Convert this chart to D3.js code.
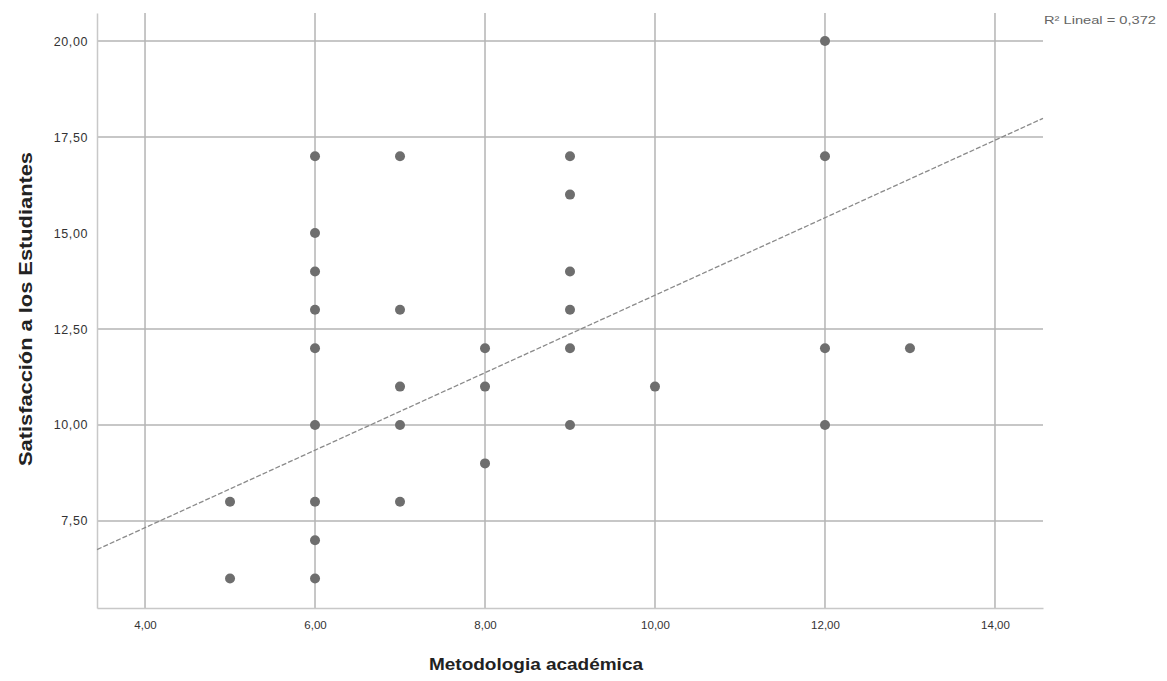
<!DOCTYPE html>
<html><head><meta charset="utf-8">
<script src="https://cdn.jsdelivr.net/npm/d3@7"></script>
<style>body{margin:0;background:#fff;} svg{display:block;}</style>
</head><body>
<svg id="c" width="1167" height="681"></svg>
<script>
const xValues = [5,5, 6,6,6,6,6,6,6,6,6, 7,7,7,7,7, 8,8,8, 9,9,9,9,9,9, 10, 12,12,12,12, 13];
const yValues = [8,6, 17,15,14,13,12,10,8,7,6, 17,13,11,10,8, 12,11,9, 17,16,14,13,12,10, 11, 20,17,12,10, 12];
const xTicks = [4,6,8,10,12,14];
const yTicks = [7.5,10,12.5,15,17.5,20];
const yGrid = [7.5,10,12.5,17.5,20];
const fitIntercept = 3.29, fitSlope = 1.009;
const r2Label = "R² Lineal = 0,372";

const svg = d3.select("#c");
const L=97, R=1043, T=13, B=608;
const x = d3.scaleLinear().domain([3.435,14.565]).range([L,R]);
const y = d3.scaleLinear().domain([5.234,20.73]).range([B,T]);
const fmt = d => d3.format(".2f")(d).replace(".",",");
const gridCol="#b4b4b4";
const ff="Liberation Sans, Arial, sans-serif";

svg.append("g").selectAll("line").data(xTicks).join("line")
 .attr("x1",d=>x(d)).attr("x2",d=>x(d)).attr("y1",T).attr("y2",B)
 .attr("stroke",gridCol).attr("stroke-width",1.5);
svg.append("g").selectAll("line").data(yGrid).join("line")
 .attr("x1",L).attr("x2",R).attr("y1",d=>y(d)).attr("y2",d=>y(d))
 .attr("stroke",gridCol).attr("stroke-width",1.5);

const xa = svg.append("g").attr("transform",`translate(0,${B})`)
 .call(d3.axisBottom(x).tickValues(xTicks).tickFormat(fmt).tickSize(0).tickPadding(13));
const ya = svg.append("g").attr("transform",`translate(${L},0)`)
 .call(d3.axisLeft(y).tickValues(yTicks).tickFormat(fmt).tickSize(0).tickPadding(9));
[xa,ya].forEach(a=>{
 a.select(".domain").attr("stroke","#c8c8c8").attr("stroke-width",1.5);
 a.selectAll("text").attr("font-family",ff).attr("fill","#333");
});
xa.selectAll("text").attr("font-size",11.5);
ya.selectAll("text").attr("font-size",12.5).attr("letter-spacing",0.6);

svg.append("line")
 .attr("x1",x(3.435)).attr("y1",y(fitIntercept+fitSlope*3.435))
 .attr("x2",x(14.565)).attr("y2",y(fitIntercept+fitSlope*14.565))
 .attr("stroke","#8a8a8a").attr("stroke-width",1.3).attr("stroke-dasharray","5,2");

svg.append("g").selectAll("circle").data(xValues.map((v,i)=>[v,yValues[i]])).join("circle")
 .attr("cx",d=>x(d[0])).attr("cy",d=>y(d[1])).attr("r",5).attr("fill","#6e6e6e");

svg.append("text").attr("x",1044).attr("y",24).text(r2Label)
 .attr("font-family",ff).attr("font-size",11.5).attr("fill","#666")
 .attr("textLength",112).attr("lengthAdjust","spacingAndGlyphs");

svg.append("text").attr("x",536).attr("y",670).attr("text-anchor","middle")
 .attr("font-family",ff).attr("font-weight","bold").attr("font-size",17).attr("fill","#222")
 .attr("textLength",214).attr("lengthAdjust","spacingAndGlyphs")
 .text("Metodologia académica");
svg.append("text").attr("transform","translate(32,309) rotate(-90)").attr("text-anchor","middle")
 .attr("font-family",ff).attr("font-weight","bold").attr("font-size",18).attr("fill","#222")
 .attr("textLength",314).attr("lengthAdjust","spacingAndGlyphs")
 .text("Satisfacción a los Estudiantes");
</script>
</body></html>
